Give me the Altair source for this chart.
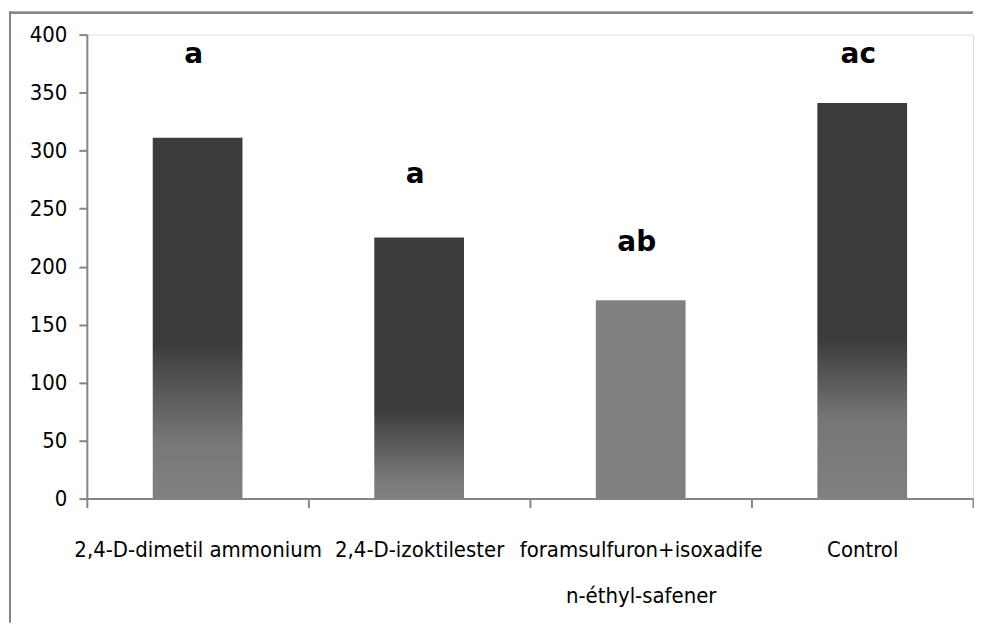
import altair as alt
import pandas as pd

categories = ["2,4-D-dimetil ammonium", "2,4-D-izoktilester",
              "foramsulfuron+isoxadifen-éthyl-safener", "Control"]
values = [311, 225, 171, 341]
letters = ["a", "a", "ab", "ac"]
letter_y = [382, 279, 220, 382]
y_ticks = [0, 50, 100, 150, 200, 250, 300, 350, 400]

df = pd.DataFrame({"cat": categories, "val": values, "letter": letters, "ly": letter_y})

W, H = 888, 465
FONT = "DejaVu Sans Condensed, sans-serif"
GRAY = "#868686"

def grad(stops):
    return alt.Gradient(gradient="linear", x1=0, x2=0, y1=0, y2=1,
                        stops=[alt.GradientStop(offset=o, color=c) for o, c in stops])

bar_styles = [
    [(0, "#3c3c3c"), (0.57, "#3c3c3c"), (0.85, "#787878"), (1, "#808080")],
    [(0, "#3c3c3c"), (0.66, "#3c3c3c"), (0.93, "#7a7a7a"), (1, "#7e7e7e")],
    [(0, "#808080"), (1, "#808080")],
    [(0, "#3c3c3c"), (0.6, "#3c3c3c"), (0.8, "#767676"), (1, "#808080")],
]

label_expr = ("datum.value == 'foramsulfuron+isoxadifen-éthyl-safener' ? "
              "['foramsulfuron+isoxadife', 'n-éthyl-safener'] : datum.value")

x_enc = alt.X("cat:N", sort=categories, title=None,
              scale=alt.Scale(paddingInner=0, paddingOuter=0),
              axis=alt.Axis(labelAngle=0, tickBand="extent", labelExpr=label_expr,
                            labelFont=FONT, labelFontSize=22, labelColor="#000000",
                            labelLimit=0, labelOverlap=False, labelPadding=42,
                            labelLineHeight=46, labelBaseline="middle",
                            domainColor=GRAY, domainWidth=2, tickColor=GRAY,
                            tickWidth=2, tickSize=9))
y_enc = alt.Y("val:Q", title=None,
              scale=alt.Scale(domain=[0, 400], nice=False),
              axis=alt.Axis(values=y_ticks, grid=False, labelFont=FONT, labelFontSize=22,
                            labelColor="#000000", labelPadding=12, domainColor=GRAY,
                            domainWidth=2, tickColor=GRAY, tickWidth=2, tickSize=8))

layers = []
for i, cat in enumerate(categories):
    layers.append(
        alt.Chart(df).transform_filter(alt.datum.cat == cat)
        .mark_bar(width=alt.RelativeBandSize(0.405), color=grad(bar_styles[i]))
        .encode(x=x_enc, y=y_enc)
    )

text = alt.Chart(df).mark_text(font="DejaVu Sans", fontWeight="bold", fontSize=28,
                               baseline="middle", dx=-4, color="#000000").encode(
    x=alt.X("cat:N", sort=categories),
    y=alt.Y("ly:Q"),
    text="letter:N",
)

frame_left = alt.Chart(df).mark_rule(color=GRAY, strokeWidth=2).encode(
    x=alt.value(-77), y=alt.value(-23), y2=alt.value(H + 124))
frame_top = alt.Chart(df).mark_rule(color=GRAY, strokeWidth=2).encode(
    x=alt.value(-78), x2=alt.value(W), y=alt.value(-22))

chart = alt.layer(*layers, text, frame_left, frame_top).properties(
    width=W, height=H, padding={"left": 0, "top": 2, "right": 0, "bottom": 0}
).configure_view(stroke=None).configure(background="#ffffff")

chart.save("out.html", embed_options={"renderer": "svg", "actions": False})
